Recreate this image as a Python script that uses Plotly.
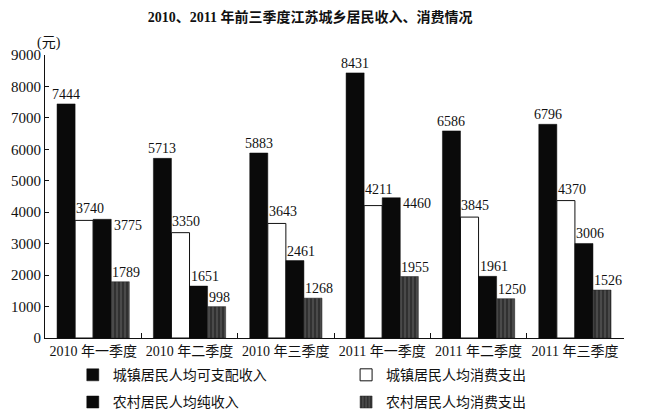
import plotly.graph_objects as go

categories = ["2010 年一季度", "2010 年二季度", "2010 年三季度",
              "2011 年一季度", "2011 年二季度", "2011 年三季度"]
urban_income = [7444, 5713, 5883, 8431, 6586, 6796]
urban_spend = [3740, 3350, 3643, 4211, 3845, 4370]
rural_income = [3775, 1651, 2461, 4460, 1961, 3006]
rural_spend = [1789, 998, 1268, 1955, 1250, 1526]
names = ["城镇居民人均可支配收入", "城镇居民人均消费支出",
         "农村居民人均纯收入", "农村居民人均消费支出"]
y_ticks = [0, 1000, 2000, 3000, 4000, 5000, 6000, 7000, 8000, 9000]

# label placement styles: (series index, category index)
side_labels = {(2, 0), (2, 3)}
raised_labels = {(1, 3)}

serif = "Liberation Serif, Noto Sans CJK SC, serif"
cjk = "Noto Sans CJK SC, sans-serif"

W, H = 640, 406
ML, MR, MT, MB = 37, 24, 47, 76
BARGAP = 0.25

fig = go.Figure()
series = [urban_income, urban_spend, rural_income, rural_spend]
styles = [
    dict(color="#0a0a0a", line=dict(color="#0a0a0a", width=0.5)),
    dict(color="white", line=dict(color="#111", width=1)),
    dict(color="#0a0a0a", line=dict(color="#0a0a0a", width=0.5)),
    dict(color="#3a3a3a", line=dict(color="#222", width=0.5),
         pattern=dict(shape="|", fgcolor="#111", bgcolor="#4a4a4a", size=4, solidity=0.45)),
]
legends = ["legend", "legend2", "legend", "legend2"]
for i, (name, vals, st, lg) in enumerate(zip(names, series, styles, legends)):
    fig.add_trace(go.Bar(
        x=categories, y=vals, name=name, marker=st, legend=lg,
        legendgroup="g%d" % i,
    ))

# value labels
plot_w = W - ML - MR
cat_w = plot_w / len(categories)
bar_w = cat_w * (1 - BARGAP) / len(series)
for k, vals in enumerate(series):
    center_off = (k - (len(series) - 1) / 2) * bar_w
    for j, v in enumerate(vals):
        if k == 0:
            xa, xs, ya, ys = "center", center_off, "bottom", 0
        elif (k, j) in side_labels:
            xa, xs, ya, ys = "left", center_off + bar_w / 2 + 1, "middle", -6
        else:
            xa, xs, ya, ys = "left", center_off - bar_w / 2 - 1, "bottom", 0
        if (k, j) in raised_labels:
            ys += 7
        elif k == 1:
            ys += 2
        fig.add_annotation(x=categories[j], y=v, text=str(v), showarrow=False,
                           xanchor=xa, yanchor=ya, xshift=xs, yshift=ys,
                           font=dict(family=serif, size=14, color="#111"))

leg_common = dict(orientation="v", yanchor="top", xanchor="left",
                  font=dict(family=cjk, size=14, color="#111"),
                  bgcolor="rgba(0,0,0,0)", tracegroupgap=6, traceorder="grouped")
fig.update_layout(
    width=W, height=H,
    margin=dict(l=ML, r=MR, t=MT, b=MB, autoexpand=False),
    paper_bgcolor="white", plot_bgcolor="white",
    barmode="group", bargap=BARGAP, bargroupgap=0,
    title=dict(text="<b>2010、2011 年前三季度江苏城乡居民收入、消费情况</b>",
               x=0.472, xanchor="center", y=0.978, yanchor="middle",
               font=dict(family=serif, size=14, color="#111")),
    showlegend=True,
    legend=dict(x=0.048, y=-0.075, **leg_common),
    legend2=dict(x=0.52, y=-0.075, **leg_common),
)
fig.update_xaxes(
    type="category", showline=True, linecolor="#111", linewidth=1,
    ticks="inside", tickson="boundaries", ticklen=5, tickcolor="#111",
    tickangle=0, automargin=False,
    tickfont=dict(family=serif, size=14, color="#111"),
    showgrid=False, zeroline=False,
)
fig.update_yaxes(
    range=[0, 9000], tickvals=y_ticks, showline=True, linecolor="#111", linewidth=1,
    ticks="inside", ticklen=4, tickcolor="#111", automargin=False,
    tickfont=dict(family=serif, size=15, color="#111"),
    showgrid=False, zeroline=False,
)
fig.add_annotation(text="(元)", xref="paper", yref="paper", x=0.0, y=1.0,
                   xanchor="left", yanchor="bottom", xshift=-10, yshift=2, showarrow=False,
                   font=dict(family=serif, size=14, color="#111"))

fig.write_html("out.html")
